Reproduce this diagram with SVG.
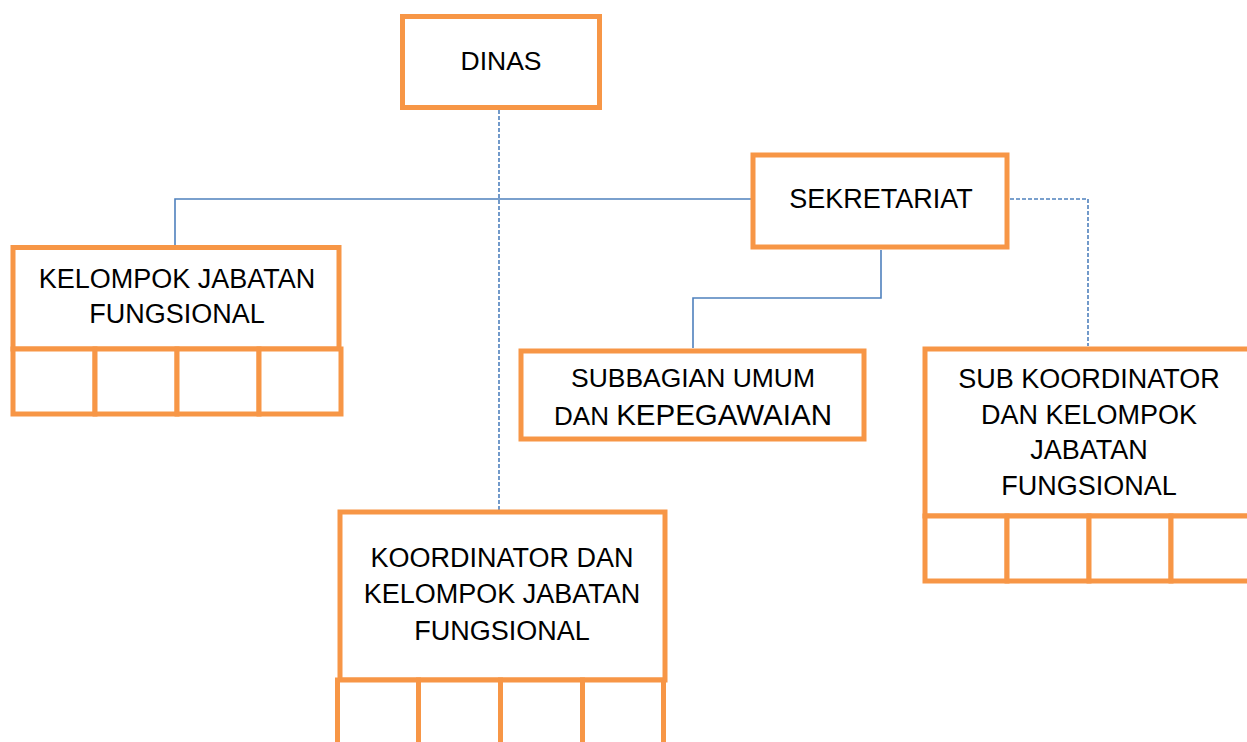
<svg xmlns="http://www.w3.org/2000/svg" width="1247" height="742" viewBox="0 0 1247 742">
<style>
.box{fill:#ffffff;stroke:#f79646;stroke-width:5}
.cell{fill:#ffffff;stroke:#f79646;stroke-width:5}
.ln{fill:none;stroke:#4f81bd;stroke-width:1.6}
.dash{fill:none;stroke:#4f81bd;stroke-width:1.6;stroke-dasharray:4 2}
text{font-family:"Liberation Sans",Arial,sans-serif;font-size:27px;fill:#000000;text-anchor:middle}
</style>
<rect width="1247" height="742" fill="#ffffff"/>
<g id="connectors">
<path class="ln" d="M175 245 V199 H752"/>
<path class="ln" d="M881 250 V298 H693 V348"/>
<path class="dash" d="M1010 199 H1088 V346"/>
<path class="dash" d="M499 110 V510"/>
</g>
<g id="dinas">
<rect class="box" x="402.5" y="16.5" width="197" height="91"/>
<text x="501" y="70" style="font-size:26.5px">DINAS</text>
</g>
<g id="sekretariat">
<rect class="box" x="753" y="155" width="254" height="92"/>
<text x="881" y="208">SEKRETARIAT</text>
</g>
<g id="kelompok-jabatan-fungsional">
<rect class="box" x="13" y="247.5" width="326" height="101.5"/>
<text x="177" y="288">KELOMPOK JABATAN</text>
<text x="177" y="323">FUNGSIONAL</text>
<rect class="cell" x="13" y="349" width="82" height="65"/>
<rect class="cell" x="95" y="349" width="82" height="65"/>
<rect class="cell" x="177" y="349" width="82" height="65"/>
<rect class="cell" x="259" y="349" width="82" height="65"/>
</g>
<g id="subbagian-umum">
<rect class="box" x="521" y="351" width="343" height="88"/>
<text x="693" y="387" style="font-size:26px" textLength="244" lengthAdjust="spacingAndGlyphs">SUBBAGIAN UMUM</text>
<text x="693" y="425"><tspan style="font-size:26px">DAN </tspan><tspan style="font-size:29.5px">KEPEGAWAIAN</tspan></text>
</g>
<g id="sub-koordinator">
<rect class="box" x="925" y="349" width="340" height="167"/>
<text x="1089" y="388">SUB KOORDINATOR</text>
<text x="1089" y="424">DAN KELOMPOK</text>
<text x="1089" y="459">JABATAN</text>
<text x="1089" y="495">FUNGSIONAL</text>
<rect class="cell" x="925" y="516" width="82" height="65"/>
<rect class="cell" x="1007" y="516" width="82" height="65"/>
<rect class="cell" x="1089" y="516" width="82" height="65"/>
<rect class="cell" x="1171" y="516" width="82" height="65"/>
</g>
<g id="koordinator">
<rect class="box" x="340" y="512" width="325" height="168"/>
<text x="502" y="567">KOORDINATOR DAN</text>
<text x="502" y="603">KELOMPOK JABATAN</text>
<text x="502" y="640">FUNGSIONAL</text>
<rect class="cell" x="337.5" y="680" width="81" height="80"/>
<rect class="cell" x="418.5" y="680" width="82" height="80"/>
<rect class="cell" x="500.5" y="680" width="82" height="80"/>
<rect class="cell" x="582.5" y="680" width="81" height="80"/>
</g>
</svg>
